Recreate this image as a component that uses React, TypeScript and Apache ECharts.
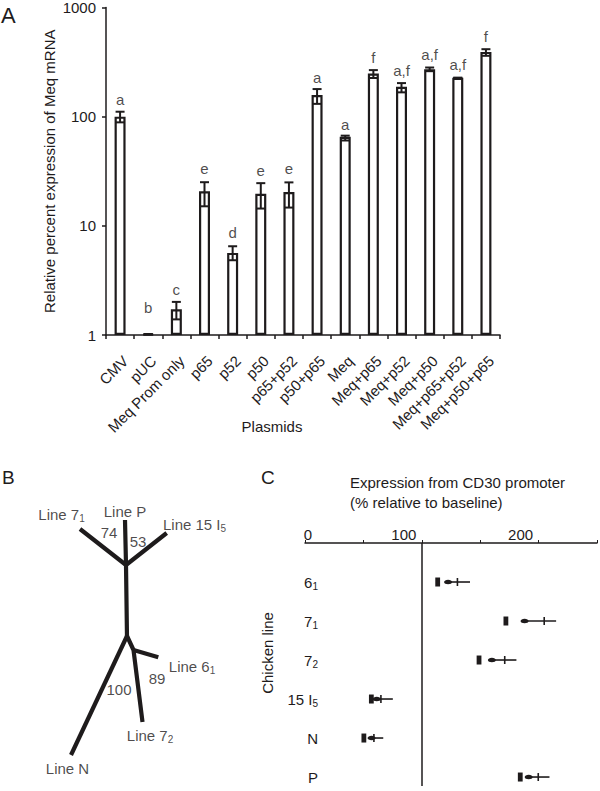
import React, { useEffect, useRef } from 'react';
import * as echarts from 'echarts';

// ---------- Panel A data ----------
const plasmids = ['CMV', 'pUC', 'Meq Prom only', 'p65', 'p52', 'p50', 'p65+p52', 'p50+p65', 'Meq', 'Meq+p65', 'Meq+p52', 'Meq+p50', 'Meq+p65+p52', 'Meq+p50+p65'];
const meqExpression = [100, 1.02, 1.72, 20.7, 5.65, 19.7, 20.4, 158, 65.3, 248, 188, 272, 227, 392];
const errLow = [88.7, 1.02, 1.39, 15.1, 4.84, 14.4, 14.7, 131, 60.5, 226, 167, 261, 227, 361];
const errHigh = [111, 1.02, 2.01, 25.1, 6.5, 24.6, 25, 179, 67, 267, 203, 282, 227, 415];
const sigLetters = ['a', 'b', 'c', 'e', 'd', 'e', 'e', 'a', 'a', 'f', 'a,f', 'a,f', 'a,f', 'f'];
const letterAt = [143, 1.78, 2.63, 33.5, 8.7, 32.1, 33.5, 227, 84.5, 348, 263, 368, 298, 541];

// ---------- Panel B data (tree, in panel units) ----------
const treeBranches: number[][][] = [
  [[60, 29], [106, 65], [146.7, 33]],
  [[105, 20], [106, 65], [107, 138]],
  [[107, 136], [51, 255]],
  [[107, 136], [113.5, 150], [122.5, 222]],
  [[113.5, 150], [138.3, 157.3]],
];
const treeLabels = [
  { name: 'Line 7{s|1}', value: [41.5, 14] },
  { name: 'Line P', value: [105, 11] },
  { name: 'Line 15 I{s|5}', value: [174.5, 24] },
  { name: '74', value: [89, 32] },
  { name: '53', value: [118, 41] },
  { name: 'Line 6{s|1}', value: [172, 166] },
  { name: '89', value: [137, 178] },
  { name: '100', value: [99, 189] },
  { name: 'Line 7{s|2}', value: [130, 235] },
  { name: 'Line N', value: [47.5, 268] },
];

// ---------- Panel C data ----------
const chickenLines = ['6{s|1}', '7{s|1}', '7{s|2}', '15 I{s|5}', 'N', 'P'];
const cd30Rect = [113.6, 172, 149, 56.8, 50.4, 184.3];
const cd30Dot = [122.5, 188, 160, 61.4, 57, 191.5];
const cd30Cross = [130.5, 204.8, 171, 65, 59, 199.7];
const cd30End = [141.3, 215, 181, 75.2, 67, 209.3];
const cd30Baseline = 100;

const FONT = '"Liberation Sans", Arial, Helvetica, sans-serif';
const INK = '#1e1b1c';

const subRich = {
  s: { fontSize: 10, fontFamily: FONT, color: INK, verticalAlign: 'bottom', lineHeight: 10 },
};

export default function App() {
  const ref = useRef<HTMLDivElement>(null);
  useEffect(() => {
    if (!ref.current) return;
    const chart = echarts.init(ref.current, null, { renderer: 'svg' });
    const axisLine = { show: true, onZero: false, lineStyle: { color: INK, width: 1.5 } };
    const option: any = {
      animation: false,
      textStyle: { fontFamily: FONT, color: INK },
      title: {
        text: 'Expression from CD30 promoter\n(% relative to baseline)',
        left: 345,
        top: 467,
        textStyle: { fontSize: 15, fontWeight: 'normal', color: INK, fontFamily: FONT, lineHeight: 20 },
      },
      graphic: [
        { type: 'text', left: 1, top: 4, style: { text: 'A', fontSize: 22, fill: INK, fontFamily: FONT } },
        { type: 'text', left: 2, top: 468, style: { text: 'B', fontSize: 19, fill: INK, fontFamily: FONT } },
        { type: 'text', left: 261, top: 468, style: { text: 'C', fontSize: 19, fill: INK, fontFamily: FONT } },
      ],
      grid: [
        { left: 106, top: 7, width: 394, height: 328 },
        { left: 20, top: 500, width: 200, height: 280 },
        { left: 305, top: 543, width: 295, height: 243 },
      ],
      xAxis: [
        {
          gridIndex: 0,
          type: 'category',
          data: plasmids,
          axisLine,
          axisTick: { show: true, length: 4, interval: 0, lineStyle: { color: INK, width: 1.5 } },
          axisLabel: {
            interval: 0,
            rotate: 45,
            margin: 18,
            align: 'right',
            verticalAlign: 'top',
            fontSize: 15,
            color: INK,
            fontFamily: FONT,
          },
          name: 'Plasmids',
          nameLocation: 'middle',
          nameGap: 84,
          nameMoveOverlap: false,
          nameTextStyle: { fontSize: 15, color: INK, fontFamily: FONT, padding: [0, 62, 0, 0] },
        },
        { gridIndex: 1, type: 'value', min: 0, max: 200, show: false },
        {
          gridIndex: 2,
          type: 'value',
          position: 'top',
          min: 0,
          max: 250,
          interval: 50,
          axisLine,
          axisTick: { show: true, length: 3, lineStyle: { color: INK, width: 1 } },
          splitLine: { show: false },
          axisLabel: {
            margin: 1,
            fontSize: 15,
            color: INK,
            fontFamily: FONT,
            formatter: (v: number) => (v === 0 ? '{z|0}' : v % 100 === 0 ? `{n|${v}}` : ''),
            rich: {
              z: { fontSize: 15, fontFamily: FONT, color: INK, padding: [0, 0, 0, 6] },
              n: { fontSize: 15, fontFamily: FONT, color: INK, padding: [0, 36, 0, 0] },
            },
          },
        },
      ],
      yAxis: [
        {
          gridIndex: 0,
          type: 'log',
          logBase: 10,
          min: 1,
          max: 1000,
          axisLine,
          axisTick: { show: true, length: 4, lineStyle: { color: INK, width: 1.5 } },
          splitLine: { show: false },
          axisLabel: { fontSize: 15, color: INK, fontFamily: FONT, margin: 10, formatter: (v: number) => String(Math.round(v)) },
          name: 'Relative percent expression of Meq mRNA',
          nameLocation: 'middle',
          nameGap: 49,
          nameMoveOverlap: false,
          nameTextStyle: { fontSize: 15, color: INK, fontFamily: FONT },
        },
        { gridIndex: 1, type: 'value', min: 0, max: 280, inverse: true, show: false },
        {
          gridIndex: 2,
          type: 'value',
          inverse: true,
          min: -1,
          max: 5.23,
          interval: 1,
          axisLine: { show: false },
          axisTick: { show: false },
          splitLine: { show: false },
          axisLabel: {
            margin: -13,
            fontSize: 15,
            color: INK,
            fontFamily: FONT,
            lineHeight: 18,
            formatter: (v: number) => (Number.isInteger(v) && v >= 0 && v < chickenLines.length ? chickenLines[v] : ''),
            rich: subRich,
          },
          name: 'Chicken line',
          nameLocation: 'middle',
          nameRotate: 90,
          nameGap: 30,
          nameMoveOverlap: false,
          nameTextStyle: { fontSize: 15, color: INK, fontFamily: FONT, padding: [0, 0, 0, 23] },
        },
      ],
      series: [
        {
          type: 'bar',
          xAxisIndex: 0,
          yAxisIndex: 0,
          data: meqExpression,
          barWidth: 11,
          itemStyle: { color: '#ffffff', borderColor: INK, borderWidth: 2.2 },
        },
        {
          type: 'custom',
          xAxisIndex: 0,
          yAxisIndex: 0,
          data: errLow.map((l, i) => [i, l, errHigh[i]]),
          encode: { x: 0, y: [1, 2] },
          renderItem: (_p: any, api: any) => {
            const lo = api.coord([api.value(0), api.value(1)]);
            const hi = api.coord([api.value(0), api.value(2)]);
            const x = lo[0];
            const cw = 4.5;
            const st = { stroke: INK, lineWidth: 2 };
            return {
              type: 'group',
              children: [
                { type: 'line', shape: { x1: x, y1: lo[1], x2: x, y2: hi[1] }, style: st },
                { type: 'line', shape: { x1: x - cw, y1: lo[1], x2: x + cw, y2: lo[1] }, style: st },
                { type: 'line', shape: { x1: x - cw, y1: hi[1], x2: x + cw, y2: hi[1] }, style: st },
              ],
            };
          },
          z: 3,
        },
        {
          type: 'scatter',
          xAxisIndex: 0,
          yAxisIndex: 0,
          data: letterAt.map((v, i) => [i, v]),
          symbolSize: 1,
          itemStyle: { color: 'rgba(0,0,0,0)' },
          label: {
            show: true,
            position: 'inside',
            formatter: (p: any) => sigLetters[p.dataIndex],
            fontSize: 15,
            color: INK,
            fontFamily: FONT,
          },
          z: 4,
        },
        {
          type: 'custom',
          xAxisIndex: 1,
          yAxisIndex: 1,
          data: treeBranches.map((_b, i) => [i]),
          renderItem: (p: any, api: any) => {
            const br = treeBranches[p.dataIndex];
            return {
              type: 'polyline',
              shape: { points: br.map((pt) => api.coord(pt)) },
              style: { stroke: INK, lineWidth: 4.2, fill: 'none', lineJoin: 'round', lineCap: 'butt' },
            };
          },
        },
        {
          type: 'scatter',
          xAxisIndex: 1,
          yAxisIndex: 1,
          data: treeLabels,
          symbolSize: 1,
          itemStyle: { color: 'rgba(0,0,0,0)' },
          label: {
            show: true,
            position: 'inside',
            formatter: '{b}',
            fontSize: 15,
            lineHeight: 18,
            color: INK,
            fontFamily: FONT,
            rich: subRich,
          },
        },
        {
          type: 'custom',
          xAxisIndex: 2,
          yAxisIndex: 2,
          data: cd30Rect.map((r, i) => [i, r, cd30Dot[i], cd30Cross[i], cd30End[i]]),
          encode: { y: 0, x: [1, 2, 3, 4] },
          renderItem: (_p: any, api: any) => {
            const row = api.value(0);
            const pr = api.coord([api.value(1), row]);
            const pd = api.coord([api.value(2), row]);
            const pc = api.coord([api.value(3), row]);
            const pe = api.coord([api.value(4), row]);
            const y = pr[1];
            return {
              type: 'group',
              children: [
                { type: 'line', shape: { x1: pd[0], y1: y, x2: pe[0], y2: y }, style: { stroke: INK, lineWidth: 1.6 } },
                { type: 'line', shape: { x1: pc[0], y1: y - 4, x2: pc[0], y2: y + 4 }, style: { stroke: INK, lineWidth: 1.6 } },
                { type: 'ellipse', shape: { cx: pd[0], cy: y, rx: 4, ry: 2.3 }, style: { fill: INK } },
                { type: 'rect', shape: { x: pr[0] - 2.4, y: y - 4.5, width: 4.8, height: 9 }, style: { fill: INK } },
              ],
            };
          },
          markLine: {
            silent: true,
            symbol: 'none',
            label: { show: false },
            lineStyle: { color: INK, width: 1.5, type: 'solid' },
            data: [{ xAxis: cd30Baseline }],
          },
        },
      ],
    };
    chart.setOption(option);
    return () => chart.dispose();
  }, []);
  return <div ref={ref} style={{ width: 600, height: 791, position: 'absolute', left: 0, top: 0, background: '#fff' }} />;
}
